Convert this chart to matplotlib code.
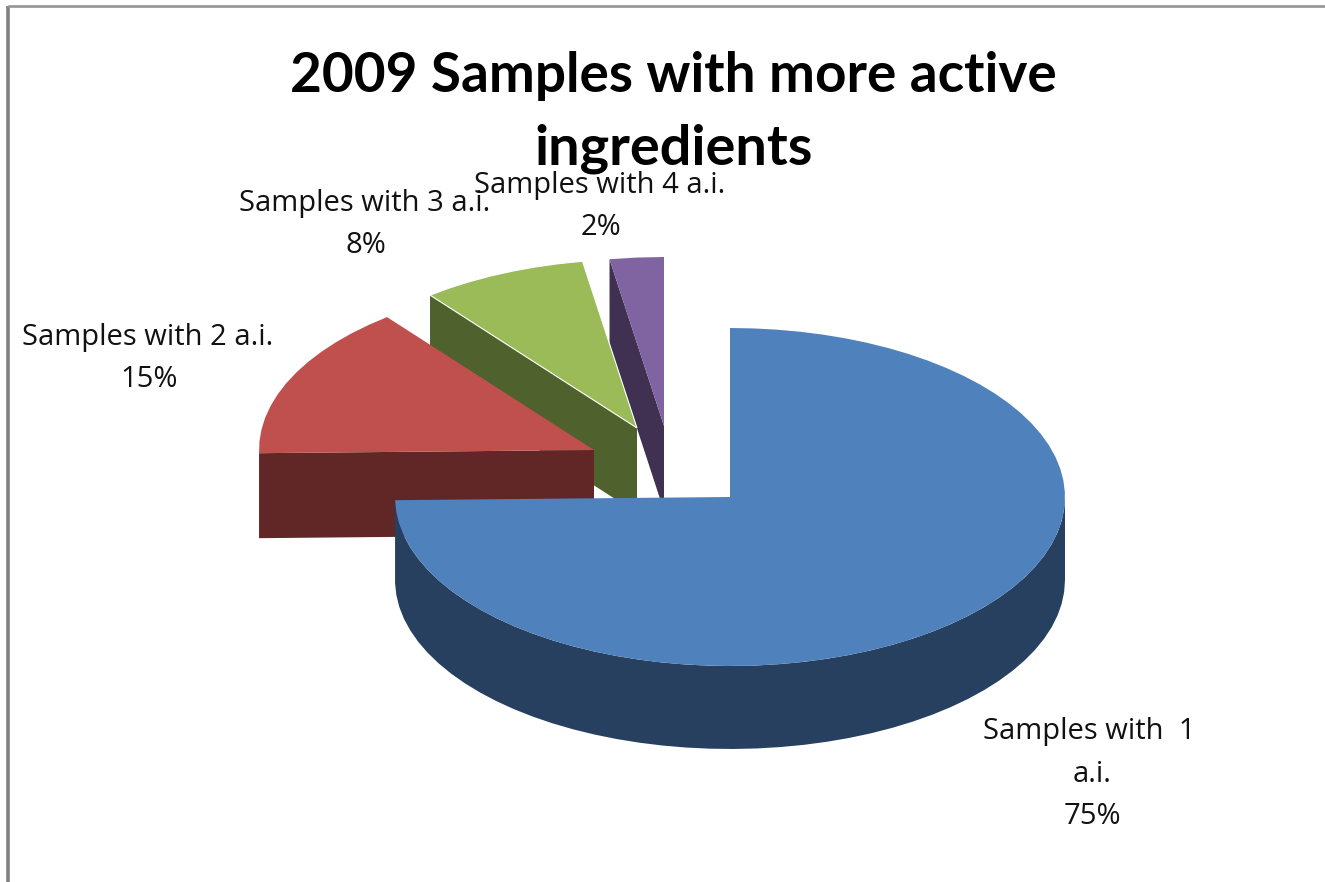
import numpy as np
import matplotlib
matplotlib.use("Agg")
import matplotlib.pyplot as plt
from matplotlib.patches import Polygon

plt.rcParams['font.family'] = ['Lato', 'DejaVu Sans']

title_lines = ["2009 Samples with more active", "ingredients"]
categories = ["Samples with 1 a.i.", "Samples with 2 a.i.", "Samples with 3 a.i.", "Samples with 4 a.i."]
shares = [74.7, 14.7, 8.0, 2.6]
percent_labels = ["75%", "15%", "8%", "2%"]

top_colors = ["#4F81BD", "#C0504D", "#9BBB59", "#8064A2"]
side_colors = ["#27405F", "#612726", "#4F612C", "#403152"]

# pie geometry in image pixels
RX, RY = 335, 169
depths = [83, 85, 85, 85]
centers = [(730, 497), (594, 450), (637, 428), (664, 426)]

W, H = 1325, 882
fig = plt.figure(figsize=(W / 100, H / 100), dpi=100)
ax = fig.add_axes([0, 0, 1, 1])
ax.set_xlim(0, W)
ax.set_ylim(H, 0)
ax.axis("off")


def rim(center, start, end, step=4.0):
    # points along the ellipse, angles clockwise from 12 o'clock
    n = max(int(abs(end - start) / step), 2)
    a = np.radians(np.linspace(start, end, n + 1))
    return np.column_stack([center[0] + RX * np.sin(a), center[1] - RY * np.cos(a)])


def draw_slice(i, start, end):
    c = centers[i]
    arc = rim(c, start, end)
    drop = np.array([0, depths[i]])
    apex = np.array(c, dtype=float)
    if i == 0:
        # outer wall, bottom half of the rim only
        front = rim(c, 90, end)
        wall = np.vstack([front, (front + drop)[::-1]])
        ax.add_patch(Polygon(wall, closed=True, fc=side_colors[i], ec="none", zorder=10 + i))
    else:
        # cut face from the rim corner to the apex
        corner = arc[0]
        face = np.array([corner, apex, apex + drop, corner + drop])
        ax.add_patch(Polygon(face, closed=True, fc=side_colors[i], ec="none", zorder=10 - i))
    ec = "white" if i == 2 else "none"
    ax.add_patch(Polygon(np.vstack([apex, arc]), closed=True, fc=top_colors[i], ec=ec,
                         lw=0.8, zorder=10 - i + 0.5 if i else 11))


angle = 0.0
for i, share in enumerate(shares):
    sweep = share / sum(shares) * 360
    draw_slice(i, angle, angle + sweep)
    angle += sweep

# chart area frame, only top and left show in the crop
ax.plot([8, 8], [H, 6], color="#808080", lw=2.6, solid_capstyle="butt", zorder=1)
ax.plot([8, W], [5.5, 5.5], color="#999999", lw=2.0, solid_capstyle="butt", zorder=1)

ax.text(673, 92, title_lines[0], fontsize=39.5, fontweight="bold", ha="center", va="baseline", zorder=20)
ax.text(674, 165, title_lines[1], fontsize=40.2, fontweight="bold", ha="center", va="baseline", zorder=20)

label_size = 21
label_font = ['Open Sans', 'DejaVu Sans']
text_color = "#111111"


def label(x, y, s):
    ax.text(x, y, s, fontsize=label_size, family=label_font, ha="center", va="baseline",
            color=text_color, zorder=21)


label(1089, 739, "Samples with  1")
label(1092, 782, "a.i.")
label(1092, 824, percent_labels[0])

label(148, 345, categories[1])
label(149, 387, percent_labels[1])

label(365, 211, categories[2])
label(366, 253, percent_labels[2])

label(600, 193, categories[3])
label(601, 235, percent_labels[3])

fig.savefig("out.png", dpi=100, facecolor="white")
